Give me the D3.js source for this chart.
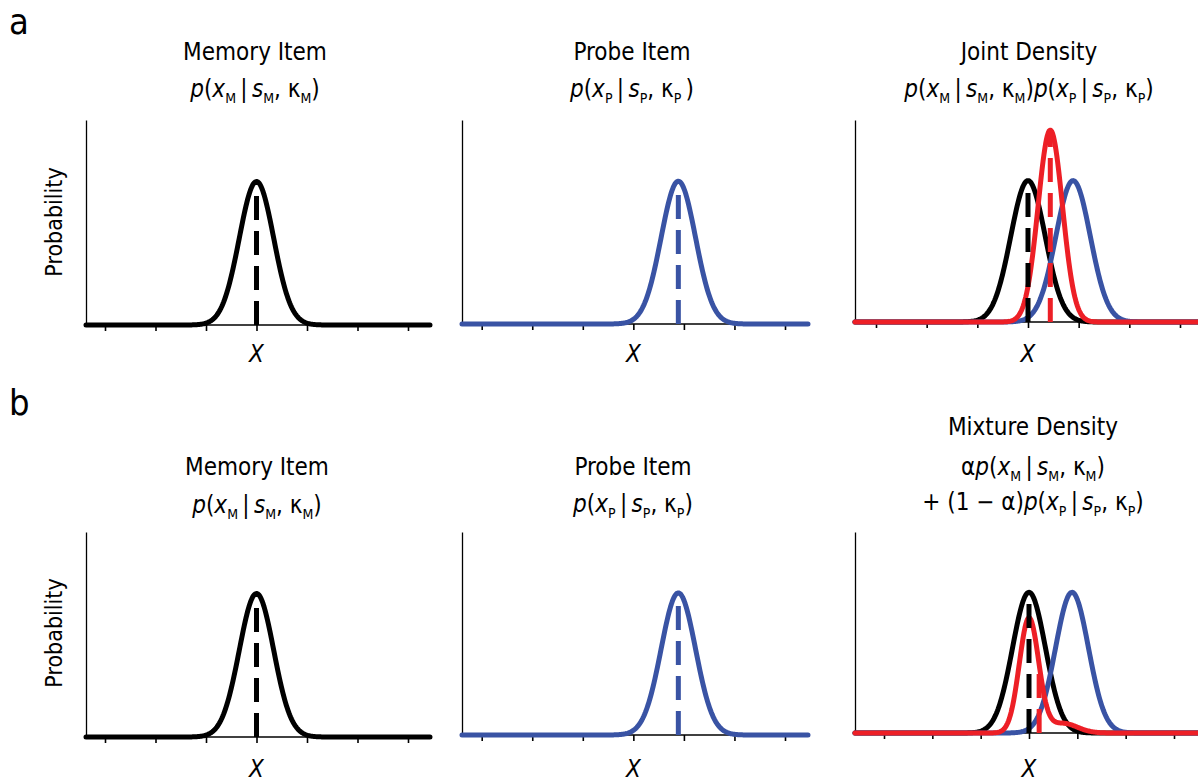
<!DOCTYPE html>
<html>
<head>
<meta charset="utf-8">
<script src="https://cdn.jsdelivr.net/npm/d3@7"></script>
<style>
  body { margin: 0; background: #fff; }
  text { font-family: 'Liberation Sans Narrow', 'DejaVu Sans Condensed', sans-serif; fill: #000; }
</style>
</head>
<body>
<svg id="chart"></svg>
<script>
// tick positions on the X axis (tick units, 0 = memory item)
var xTicks = [-3, -2, -1, 0, 1, 2, 3];

// gaussian bumps: centre, spread (tick units), peak (share of axis height)
var compNames = ["memory", "probe", "joint", "mixCore", "mixTail"];
var compMeans = [0, 0.89, 0.44, 0, 0.7];
var compSds   = [0.34, 0.34, 0.24, 0.2, 0.3];
var compPeaks = [0.70, 0.70, 0.95, 0.57, 0.048];

// curves are sums of bumps; each has a dashed marker at markX
var curveNames = ["memory", "probe", "joint", "mixture"];
var curveParts = [[0], [1], [2], [3, 4]];
var curveMarkX = [0, 0.89, 0.44, 0.21];
var curveColors = ["#000", "#3953a4", "#ed1f26", "#ed1f26"];

// which curves / markers go in each panel
var panelNames   = ["a1", "a2", "a3", "b1", "b2", "b3"];
var panelCurves  = [[0], [1], [0, 1, 2], [0], [1], [0, 1, 3]];
var panelMarks   = [[0], [1], [0, 2], [0], [1], [0, 3]];

// panel geometry (pixels)
var layout = [
  {left: 86,  t0: 105,   t6: 408,  right: 430,  top: 120, base: 325, tx: 255,  ty: [60, 97],        prob: true},
  {left: 462, t0: 481.7, t6: 785,  right: 808,  top: 120, base: 324, tx: 632,  ty: [60, 97]},
  {left: 855, t0: 876,   t6: 1180, right: 1200, top: 120, base: 322, tx: 1029, ty: [60, 97]},
  {left: 86,  t0: 105,   t6: 408,  right: 430,  top: 532, base: 737, tx: 257,  ty: [475, 513],      prob: true},
  {left: 462, t0: 481.7, t6: 785,  right: 808,  top: 532, base: 735, tx: 633,  ty: [475, 512]},
  {left: 855, t0: 884,   t6: 1174, right: 1200, top: 532, base: 733, tx: 1033, ty: [435, 475, 510]}
];

// title lines as token lists: [text, style]  (i = italic, s = subscript)
var M = ["M", "s"], P = ["P", "s"];
function cond(x, s, k) {
  return [["p", "i"], ["("], ["x", "i"], x, ["\u2009|\u2009"], ["s", "i"], s, [", \u03ba"], k];
}
var titles = [
  [[["Memory Item"]], cond(M, M, M).concat([[")"]])],
  [[["Probe Item"]], cond(P, P, P).concat([["\u2009)"]])],
  [[["Joint Density"]], cond(M, M, M).concat([[")"]], cond(P, P, P), [[")"]])],
  [[["Memory Item"]], cond(M, M, M).concat([[")"]])],
  [[["Probe Item"]], cond(P, P, P).concat([[")"]])],
  [[["Mixture Density"]], [["\u03b1"]].concat(cond(M, M, M), [[")"]]),
   [["+ (1 \u2212 \u03b1)"]].concat(cond(P, P, P), [[")"]])]
];

var svg = d3.select("#chart").attr("width", 1198).attr("height", 782);

function density(ci, v) {
  return d3.sum(curveParts[ci], function(k) {
    var z = (v - compMeans[k]) / compSds[k];
    return compPeaks[k] * Math.exp(-0.5 * z * z);
  });
}

function mathLine(g, tokens, x, y, size) {
  var t = g.append("text").attr("x", x).attr("y", y)
      .attr("text-anchor", "middle").style("font-size", size + "px");
  var shift = 0;
  tokens.forEach(function(tk) {
    var sub = tk[1] === "s";
    var want = sub ? 6 : 0;
    t.append("tspan")
        .attr("dy", want - shift)
        .style("font-style", tk[1] === "i" ? "italic" : "normal")
        .style("font-size", sub ? "14px" : null)
        .text(tk[0]);
    shift = want;
  });
}

panelNames.forEach(function(name, pi) {
  var L = layout[pi];
  var g = svg.append("g").attr("class", "panel-" + name);

  var x = d3.scaleLinear().domain([-3, 3]).range([L.t0, L.t6]);
  var y = d3.scaleLinear().domain([0, 1]).range([L.base, L.top]);

  // axes
  g.append("g")
      .attr("transform", "translate(" + L.left + ",0)")
      .call(d3.axisLeft(y).ticks(0).tickSizeOuter(0))
      .call(function(a) { a.select(".domain").attr("stroke-width", 1.3); });

  g.append("line")
      .attr("x1", L.left).attr("x2", L.right)
      .attr("y1", L.base).attr("y2", L.base)
      .attr("stroke", "#000").attr("stroke-width", 1.3);

  g.append("g")
      .attr("transform", "translate(0," + L.base + ")")
      .call(d3.axisBottom(x).tickValues(xTicks).tickSize(6).tickSizeOuter(0).tickFormat(""))
      .call(function(a) {
        a.select(".domain").remove();
        a.selectAll(".tick line").attr("stroke-width", 1.6);
      });

  // curves
  var v0 = x.invert(L.left), v1 = x.invert(L.right);
  var xs = d3.range(401).map(function(i) { return v0 + (v1 - v0) * i / 400; });
  var line = d3.line().x(function(d) { return x(d[0]); }).y(function(d) { return y(d[1]); });

  panelCurves[pi].forEach(function(ci) {
    g.append("path")
        .datum(xs.map(function(v) { return [v, density(ci, v)]; }))
        .attr("d", line)
        .attr("fill", "none")
        .attr("stroke", curveColors[ci])
        .attr("stroke-width", 5)
        .attr("stroke-linecap", "round")
        .attr("stroke-linejoin", "round");
  });

  // dashed markers from the baseline up to the curve
  panelMarks[pi].forEach(function(ci) {
    var mx = curveMarkX[ci];
    g.append("line")
        .attr("x1", x(mx)).attr("x2", x(mx))
        .attr("y1", y(0)).attr("y2", y(density(ci, mx)))
        .attr("stroke", curveColors[ci])
        .attr("stroke-width", 5)
        .style("stroke-dasharray", "24,11");
  });

  // titles
  titles[pi].forEach(function(tokens, li) {
    mathLine(g, tokens, L.tx, L.ty[li], 24);
  });

  g.append("text")
      .attr("x", x(0)).attr("y", pi < 3 ? 362 : 777)
      .attr("text-anchor", "middle")
      .style("font-size", "24px").style("font-style", "italic")
      .text("X");

  if (L.prob) {
    g.append("text")
        .attr("transform", "translate(62," + (pi < 3 ? 222 : 633) + ")rotate(-90)")
        .attr("text-anchor", "middle")
        .style("font-size", "23px")
        .text("Probability");
  }
});

svg.append("text").attr("x", 9).attr("y", 34).style("font-size", "36px").text("a");
svg.append("text").attr("x", 9).attr("y", 415).style("font-size", "36px").text("b");
</script>
</body>
</html>
